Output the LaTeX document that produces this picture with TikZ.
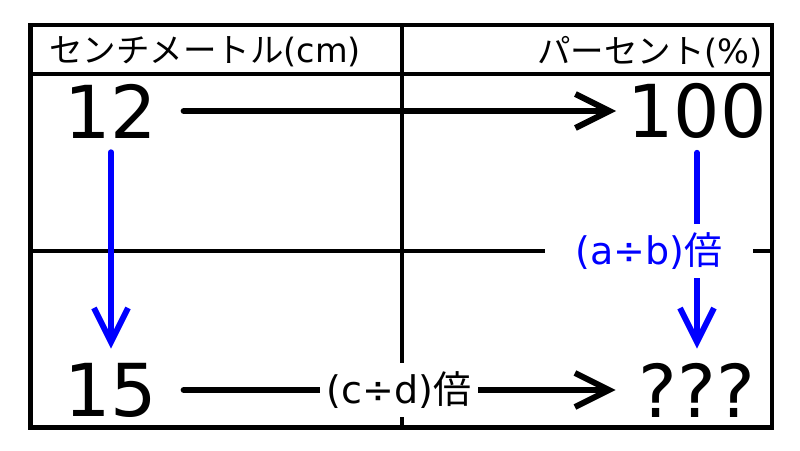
\documentclass[tikz,border=0pt]{standalone}
\usepackage{fontspec}
\setmainfont{DejaVu Sans}
\newfontfamily\cjk{Noto Sans CJK JP}
\usetikzlibrary{arrows.meta}
\definecolor{pureblue}{RGB}{0,0,255}
\tikzset{
  frame/.style={line width=4.5pt},
  grid/.style={line width=4pt},
  big/.style={inner sep=0pt, font=\fontsize{73pt}{80pt}\selectfont},
  head/.style={inner sep=0pt, font=\fontsize{33.5pt}{38pt}\selectfont},
  lab/.style={fill=white, inner ysep=9pt, font=\fontsize{38pt}{44pt}\selectfont},
  tip/.style={-{Straight Barb[length=34pt,width=34pt]}, line width=6pt, line cap=round},
  blk/.style={tip, black},
  blu/.style={tip, pureblue},
}
\begin{document}
\begin{tikzpicture}[x=1pt,y=-1pt]
\useasboundingbox (0,0) rectangle (800,450);
% grid
\draw[grid] (401.5,25) -- (401.5,427.5);
\draw[grid] (30.5,251) -- (772,251);
\draw[grid] (30.5,74) -- (772,74);
\draw[frame] (30.5,25) rectangle (772,427.5);
% headers
\node[head, anchor=west] (hL) at (49,52) {{\cjk センチメートル}(cm)};
\node[head, anchor=east] (hR) at (763,52) {{\cjk パーセント}(\%)};
% values
\node[big] (n12) at (111,111) {12};
\node[big] (n100) at (697,111) {100};
\node[big] (n15) at (111,390) {15};
\node[big] (nq) at (697,390) {???};
% connectors
\draw[blk, shorten <=26pt, shorten >=11pt] (n12) -- (n100);
\draw[blu, shorten <=14pt, shorten >=14pt] (n12) -- (n15);
\draw[blu, shorten <=14pt, shorten >=14pt] (n100) -- (nq);
\draw[blk, shorten <=26pt, shorten >=23pt] (n15) -- (nq);
% labels
\node[lab, inner xsep=31pt, text=pureblue] (la) at (649,251) {(a÷b){\cjk 倍}};
\node[lab, inner xsep=7pt] (lc) at (399,390) {(c÷d){\cjk 倍}};
\end{tikzpicture}
\end{document}
